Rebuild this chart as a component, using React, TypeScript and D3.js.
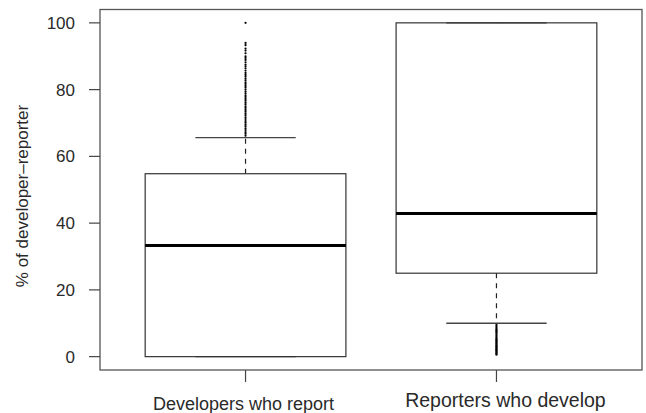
import React from "react";
import * as d3 from "d3";

const categories = ["Developers who report", "Reporters who develop"];
const q1 = [0, 25];
const medians = [33.3, 42.9];
const q3 = [54.8, 100];
const whiskerLow = [0, 10];
const whiskerHigh = [65.6, 100];
const outliers1 = [
  66.2, 66.8, 67.3, 67.9, 68.4, 69.0, 69.5, 70.1, 70.6, 71.2, 71.7, 72.3, 72.8,
  73.4, 73.9, 74.5, 75.0, 75.6, 76.1, 76.7, 77.2, 77.8, 78.3, 78.9, 79.4, 80.0,
  80.6, 81.1, 81.7, 82.2, 82.8, 83.3, 83.9, 84.4, 85.0, 85.7, 86.4, 87.0, 87.5,
  88.2, 88.9, 89.5, 90.0, 90.9, 91.7, 92.3, 93.3, 94.0, 100,
];
const outliers2 = [
  9.5, 9.1, 8.7, 8.3, 8.0, 7.7, 7.4, 7.1, 6.7, 6.3, 6.0, 5.6, 5.3, 5.0, 4.8, 4.5,
  4.2, 4.0, 3.7, 3.4, 3.2, 3.0, 2.7, 2.5, 2.2, 2.0, 1.8, 1.5, 1.3, 1.0, 0.8, 0.6,
];
const outliers = [outliers1, outliers2];
const yTicks = [0, 20, 40, 60, 80, 100];
const yLabel = "% of developer\u2013reporter";

const W = 646;
const H = 413;
const left = 100;
const right = 642;
const top = 9.5;
const bottom = 370;

export default function App() {
  const x = d3.scalePoint<string>().domain(categories).range([left, right]).padding(0.58);
  const y = d3.scaleLinear().domain([-4, 104]).range([bottom, top]);
  const step = x.step();
  const boxHalf = 0.4 * step;
  const capHalf = 0.2 * step;
  const font = "'Liberation Sans', Arial, Helvetica, sans-serif";
  const stroke = "#333";
  const labelSizes = [18, 19.5];
  const labelBaselines = [410, 407];
  const labelShift = [-2, 9];

  return (
    <svg width={W} height={H} style={{ position: "absolute", left: 0, top: 0 }}>
      <rect x={0} y={0} width={W} height={H} fill="#fff" />
      {/* frame */}
      <rect x={left} y={top} width={right - left} height={bottom - top} fill="none" stroke="#555" strokeWidth={1.3} />
      {/* y axis ticks */}
      {yTicks.map((t) => (
        <g key={t}>
          <line x1={left - 11} x2={left} y1={y(t)} y2={y(t)} stroke="#444" strokeWidth={1.2} />
          <text x={left - 25} y={y(t)} dy="0.36em" textAnchor="end" fontFamily={font} fontSize={17} fill="#2a2a2a">
            {t}
          </text>
        </g>
      ))}
      <text
        transform={`translate(28,196) rotate(-90)`}
        textAnchor="middle"
        fontFamily={font}
        fontSize={17}
        fill="#2a2a2a"
      >
        {yLabel}
      </text>
      {/* x axis ticks and labels */}
      {categories.map((c, i) => (
        <g key={c}>
          <line x1={x(c)} x2={x(c)} y1={bottom} y2={bottom + 12} stroke="#444" strokeWidth={1.2} />
          <text
            x={x(c)}
            dx={labelShift[i]}
            y={labelBaselines[i]}
            textAnchor="middle"
            fontFamily={font}
            fontSize={labelSizes[i]}
            fill="#2a2a2a"
          >
            {c}
          </text>
        </g>
      ))}
      {/* boxes */}
      {categories.map((c, i) => {
        const cx = x(c) as number;
        return (
          <g key={"b" + c}>
            <line x1={cx} x2={cx} y1={y(q3[i])} y2={y(whiskerHigh[i])} stroke="#222" strokeWidth={1.2} strokeDasharray="5,5" />
            <line x1={cx} x2={cx} y1={y(q1[i])} y2={y(whiskerLow[i])} stroke="#222" strokeWidth={1.2} strokeDasharray="5,5" />
            <line x1={cx - capHalf} x2={cx + capHalf} y1={y(whiskerHigh[i])} y2={y(whiskerHigh[i])} stroke="#444" strokeWidth={1.3} />
            <line x1={cx - capHalf} x2={cx + capHalf} y1={y(whiskerLow[i])} y2={y(whiskerLow[i])} stroke="#444" strokeWidth={1.3} />
            <rect
              x={cx - boxHalf}
              y={y(q3[i])}
              width={2 * boxHalf}
              height={y(q1[i]) - y(q3[i])}
              fill="none"
              stroke={stroke}
              strokeWidth={1.2}
            />
            <line x1={cx - boxHalf} x2={cx + boxHalf} y1={y(medians[i])} y2={y(medians[i])} stroke="#000" strokeWidth={3} />
            {outliers[i].map((v, j) => (
              <circle key={j} cx={cx} cy={y(v)} r={1.1} fill="#000" />
            ))}
          </g>
        );
      })}
    </svg>
  );
}
